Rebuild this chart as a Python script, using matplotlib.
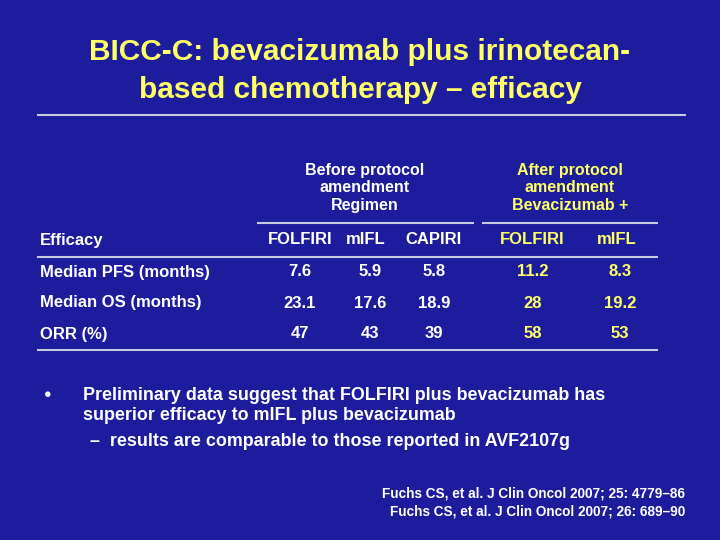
import matplotlib.pyplot as plt
from matplotlib.lines import Line2D

BG = '#1c1c9c'
YEL = '#ffff66'
WHITE = 'white'

columns = ['FOLFIRI', 'mIFL', 'CAPIRI', 'FOLFIRI', 'mIFL']
col_x = [300, 366, 434, 532, 617]
after_group = [False, False, False, True, True]
row_labels = ['Median PFS (months)', 'Median OS (months)', 'ORR (%)']
row_y = [272, 303, 334]
values = [
    ['7.6', '5.9', '5.8', '11.2', '8.3'],
    ['23.1', '17.6', '18.9', '28', '19.2'],
    ['47', '43', '39', '58', '53'],
]
val_x = [300, 370, 434, 533, 620]

W, H = 720, 540
fig = plt.figure(figsize=(7.2, 5.4), dpi=100, facecolor=BG)


def txt(x, y, s, **kw):
    kw.setdefault('color', WHITE)
    kw.setdefault('fontsize', 12)
    kw.setdefault('fontweight', 'bold')
    kw.setdefault('va', 'center')
    kw.setdefault('family', 'Liberation Sans')
    fig.text(x / W, 1 - y / H, s, **kw)


def hline(x0, x1, y, color='#c8c8e0', lw=1.5):
    fig.add_artist(Line2D([x0 / W, x1 / W], [1 - y / H, 1 - y / H], color=color, lw=lw))


txt(360, 52, 'BICC-C: bevacizumab plus irinotecan-', color=YEL, fontsize=21.5, ha='center')
txt(360, 90, 'based chemotherapy \u2013 efficacy', color=YEL, fontsize=21.5, ha='center')
hline(38, 685, 115, lw=1.5)

txt(365, 188, 'Before protocol\namendment\nRegimen', ha='center', linespacing=1.2, fontsize=11.5)
txt(570, 188, 'After protocol\namendment\nBevacizumab +', ha='center', color=YEL, linespacing=1.2, fontsize=11.5)
hline(258, 473, 223)
hline(483, 657, 223)

txt(40, 240, 'Efficacy')
for name, x, after in zip(columns, col_x, after_group):
    txt(x, 240, name, ha='center', color=YEL if after else WHITE)
hline(38, 657, 257)

for label, y, row in zip(row_labels, row_y, values):
    txt(40, y, label)
    for v, x, after in zip(row, val_x, after_group):
        txt(x, y, v, ha='center', color=YEL if after else WHITE)
hline(38, 657, 350)

txt(44, 395, '\u25cf', fontsize=9)
txt(83, 395, 'Preliminary data suggest that FOLFIRI plus bevacizumab has', fontsize=12.9)
txt(83, 415, 'superior efficacy to mIFL plus bevacizumab', fontsize=12.9)
txt(90, 442, '\u2013  results are comparable to those reported in AVF2107g', fontsize=12.9)

txt(685, 494, 'Fuchs CS, et al. J Clin Oncol 2007; 25: 4779\u201386', ha='right', fontsize=9.8)
txt(685, 512, 'Fuchs CS, et al. J Clin Oncol 2007; 26: 689\u201390', ha='right', fontsize=9.8)

fig.savefig('out.png', dpi=100, facecolor=BG)
